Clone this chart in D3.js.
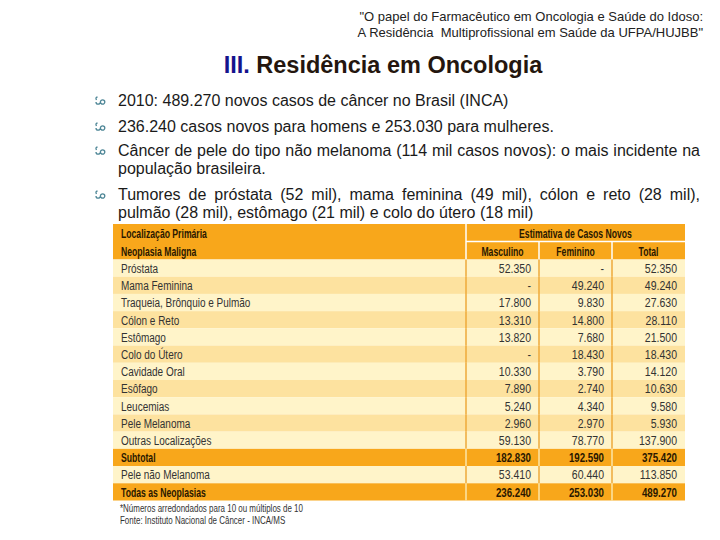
<!DOCTYPE html>
<html><head><meta charset="utf-8">
<script src="https://cdn.jsdelivr.net/npm/d3@7/dist/d3.min.js"></script>
<style>
html,body{margin:0;padding:0;background:#fff;}
svg{display:block;}
</style></head>
<body>
<svg id="c" width="720" height="540"></svg>
<script>
// ---- data ----
const headerLines = ["\"O papel do Farmacêutico em Oncologia e Saúde do Idoso:", "A Residência  Multiprofissional em Saúde da UFPA/HUJBB\""];
const titleNumber = "III.";
const titleText = " Residência em Oncologia";
const bulletLines = [
  ["2010: 489.270 novos casos de câncer no Brasil (INCA)"],
  ["236.240 casos novos para homens e 253.030 para mulheres."],
  ["Câncer de pele do tipo não melanoma (114 mil casos novos): o mais incidente na", "população brasileira."],
  ["Tumores de próstata (52 mil), mama feminina (49 mil), cólon e reto (28 mil),", "pulmão (28 mil), estômago (21 mil) e colo do útero (18 mil)"]
];
const headLabel1 = "Localização Primária";
const headLabel2 = "Neoplasia Maligna";
const headGroup = "Estimativa de Casos Novos";
const columns = ["Masculino", "Feminino", "Total"];
const sites = ["Próstata","Mama Feminina","Traqueia, Brônquio e Pulmão","Cólon e Reto","Estômago","Colo do Útero","Cavidade Oral","Esôfago","Leucemias","Pele Melanoma","Outras Localizações","Subtotal","Pele não Melanoma","Todas as Neoplasias"];
const masculino = [52350,null,17800,13310,13820,null,10330,7890,5240,2960,59130,182830,53410,236240];
const feminino  = [null,49240,9830,14800,7680,18430,3790,2740,4340,2970,78770,192590,60440,253030];
const total     = [52350,49240,27630,28110,21500,18430,14120,10630,9580,5930,137900,375420,113850,489270];
const highlighted = ["Subtotal","Todas as Neoplasias"];
const footnotes = ["*Números arredondados para 10 ou múltiplos de 10", "Fonte: Instituto Nacional de Câncer - INCA/MS"];

// ---- styles ----
const ORANGE = "#f8a71b", LIGHT = "#fff4c9", DARK = "#fde29f", LINE = "#eeaa3a";
const SANS = "Arial,'Liberation Sans',sans-serif";
const SX_REG = 0.74, SX_BOLD = 0.64;

const svg = d3.select("#c");

// condensed text helper
function ctext(parent, xx, yy, str, opts) {
  const o = Object.assign({size:13.5, bold:false, anchor:"start", fill:"#333", sx:null}, opts||{});
  const sx = o.sx != null ? o.sx : (o.bold ? SX_BOLD : SX_REG);
  return parent.append("g").attr("transform", `translate(${xx},${yy}) scale(${sx},1)`)
    .append("text").attr("x",0).attr("y",0)
    .attr("text-anchor", o.anchor).attr("font-family", SANS)
    .attr("font-size", o.size).attr("font-weight", o.bold ? "bold" : "normal")
    .attr("fill", o.fill).text(str);
}

// header lines (top right)
svg.selectAll("text.hdr").data(headerLines).join("text")
  .attr("class","hdr")
  .attr("x", 703).attr("y", (d,i)=> 21 + i*16)
  .attr("text-anchor","end")
  .attr("font-family", SANS).attr("font-size", 13).attr("fill","#222")
  .attr("xml:space","preserve")
  .text(d=>d);

// title
const title = svg.append("text").attr("x", 383).attr("y", 73)
  .attr("text-anchor","middle").attr("font-family", SANS)
  .attr("font-size", 23.5).attr("font-weight","bold").attr("xml:space","preserve");
title.append("tspan").attr("fill","#14148c").text(titleNumber);
title.append("tspan").attr("fill","#24160e").text(titleText);

// bullets
const bx0 = 118, bx1 = 700;
const lineYs = [[106],[132],[156,174],[200,218]];
const bulletG = svg.append("g");
bulletLines.forEach((lines, bi) => {
  const cy = lineYs[bi][0] - 5;
  const g = bulletG.append("g").attr("transform", `translate(101,${cy})`)
    .attr("fill","none").attr("stroke","#4f8797").attr("stroke-width",1.3);
  g.append("path").attr("d","M-4.5,-1 q-1.5,-2.5 1,-3 M-5,1 a2.2,2.2 0 1 0 4.4,0 a2.2,2.2 0 1 0 4.4,0 a2.2,2.2 0 1 0 -4.4,0");
  lines.forEach((ln, li) => {
    const y = lineYs[bi][li];
    const justify = (lines.length > 1 && li === 0);
    if (!justify) {
      bulletG.append("text").attr("x", bx0).attr("y", y)
        .attr("font-family", SANS).attr("font-size", 16).attr("fill","#1a1a1a").text(ln);
    } else {
      const words = ln.split(" ");
      const ts = words.map(w => bulletG.append("text").attr("y", y)
        .attr("font-family", SANS).attr("font-size", 16).attr("fill","#1a1a1a").text(w));
      const widths = ts.map(t => t.node().getComputedTextLength());
      const gap = (bx1 - bx0 - d3.sum(widths)) / (words.length - 1);
      let x = bx0;
      ts.forEach((t,i)=>{ t.attr("x", x); x += widths[i] + gap; });
    }
  });
});

// ---- table ----
const tLeft = 113, tRight = 685, tTop = 224, headMid = 241.5, headBot = 259.5, tBot = 500.5;
const x = d3.scaleBand().domain(columns).range([466, tRight]);
const y = d3.scaleBand().domain(sites).range([headBot, tBot]);
const fmt = d3.formatLocale({decimal:",", thousands:".", grouping:[3], currency:["",""]}).format(",");
const series = {Masculino: masculino, Feminino: feminino, Total: total};
const table = svg.append("g");

table.append("rect").attr("x", tLeft).attr("y", tTop).attr("width", tRight - tLeft).attr("height", headBot - tTop).attr("fill", ORANGE);
table.selectAll("rect.row").data(sites).join("rect").attr("class","row")
  .attr("x", tLeft).attr("y", d=>y(d)).attr("width", tRight - tLeft).attr("height", y.bandwidth())
  .attr("fill", (d,i)=> highlighted.includes(d) ? ORANGE : (i%2===0 ? LIGHT : DARK));

table.append("line").attr("x1", x("Masculino")).attr("x2", x("Masculino")).attr("y1", tTop).attr("y2", headBot).attr("stroke","#fff").attr("stroke-width",1.5);
table.append("line").attr("x1", x("Masculino")).attr("x2", tRight).attr("y1", headMid).attr("y2", headMid).attr("stroke","#fff").attr("stroke-width",1.5);
table.selectAll("line.hsep").data(columns.slice(1)).join("line").attr("class","hsep")
  .attr("x1", d=>x(d)).attr("x2", d=>x(d)).attr("y1", headMid).attr("y2", headBot).attr("stroke","#fff").attr("stroke-width",1.5);

sites.forEach((s) => {
  const hl = highlighted.includes(s);
  table.selectAll(null).data(columns).join("line")
    .attr("x1", d=>x(d)).attr("x2", d=>x(d))
    .attr("y1", y(s)).attr("y2", y(s) + y.bandwidth())
    .attr("stroke", hl ? "#fde6a8" : LINE).attr("stroke-width", 1.5);
});

// header texts
const HC = "#2a1800";
ctext(table, 121, 237.5, headLabel1, {bold:true, fill:HC});
ctext(table, 121, 255.5, headLabel2, {bold:true, fill:HC});
ctext(table, (x("Masculino") + tRight)/2, 237.5, headGroup, {bold:true, fill:HC, anchor:"middle"});
columns.forEach(c => ctext(table, x(c) + x.bandwidth()/2, 255.5, c, {bold:true, fill:HC, anchor:"middle"}));

// row labels and values
sites.forEach((s, i) => {
  const hl = highlighted.includes(s);
  const yy = y(s) + y.bandwidth()/2 + 4.8;
  ctext(table, 121, yy, s, {bold:hl, fill: hl ? HC : "#333"});
  columns.forEach(col => {
    const v = series[col][i];
    ctext(table, x(col) + x.bandwidth() - 8, yy, v == null ? "-" : fmt(v),
      {bold:hl, fill: hl ? HC : "#333", anchor:"end", sx: hl ? 0.72 : 0.78});
  });
});

// footnotes
footnotes.forEach((f, i) => ctext(svg, 120, 512 + i*11.5, f, {size:10.5, fill:"#333", sx:0.76}));
</script>
</body></html>
